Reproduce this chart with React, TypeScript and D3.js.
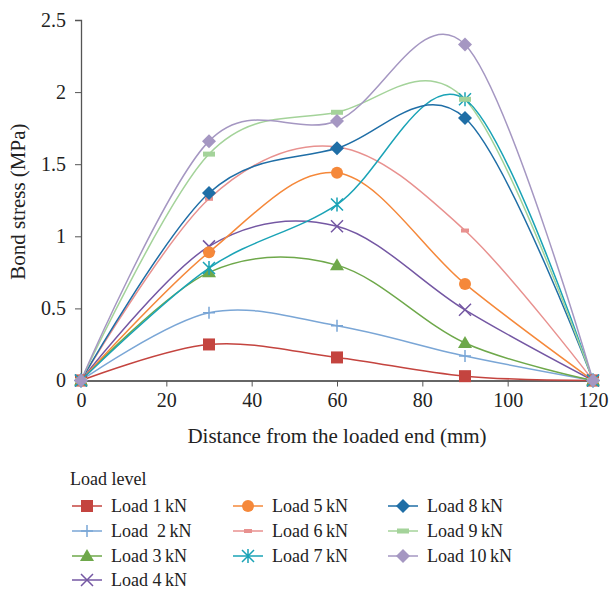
import React, { useEffect, useRef } from 'react';
import * as d3 from 'd3';

const distances = [0, 30, 60, 90, 120];
const loadNames = ['Load 1\u2009kN', 'Load  2\u2009kN', 'Load 3\u2009kN', 'Load 4\u2009kN', 'Load 5\u2009kN', 'Load 6\u2009kN', 'Load 7\u2009kN', 'Load 8\u2009kN', 'Load 9\u2009kN', 'Load 10\u2009kN'];
const load1 = [0, 0.25, 0.16, 0.03, 0];
const load2 = [0, 0.47, 0.38, 0.17, 0];
const load3 = [0, 0.75, 0.8, 0.26, 0];
const load4 = [0, 0.93, 1.07, 0.49, 0];
const load5 = [0, 0.89, 1.44, 0.67, 0];
const load6 = [0, 1.26, 1.62, 1.04, 0];
const load7 = [0, 0.78, 1.22, 1.95, 0];
const load8 = [0, 1.3, 1.61, 1.82, 0];
const load9 = [0, 1.57, 1.86, 1.95, 0];
const load10 = [0, 1.66, 1.8, 2.33, 0];
const xTicks = [0, 20, 40, 60, 80, 100, 120];
const yTicks = [0, 0.5, 1, 1.5, 2, 2.5];

const colors = ['#c4443f', '#7aa6d6', '#6ea84a', '#7457a3', '#f5883a', '#e8918f', '#1aa3b6', '#1f6ea6', '#a4d39a', '#a597c2'];
const symbols = ['square', 'plus', 'triangle', 'x', 'circle', 'dash', 'star', 'diamond', 'dash2', 'diamond'];

const W = 609, H = 590;
const margin = { left: 81, right: 15, top: 20, bottom: 209 };
const font = '"Liberation Serif", "DejaVu Serif", serif';

function drawMarker(g: any, kind: string, cx: number, cy: number, color: string) {
  const s = 6;
  if (kind === 'square') {
    g.append('rect').attr('x', cx - s).attr('y', cy - s).attr('width', 2 * s).attr('height', 2 * s).attr('fill', color);
  } else if (kind === 'circle') {
    g.append('circle').attr('cx', cx).attr('cy', cy).attr('r', 6).attr('fill', color);
  } else if (kind === 'triangle') {
    g.append('path').attr('d', `M${cx},${cy - 7}L${cx + 7},${cy + 5}L${cx - 7},${cy + 5}Z`).attr('fill', color);
  } else if (kind === 'diamond') {
    g.append('path').attr('d', `M${cx},${cy - 7}L${cx + 7},${cy}L${cx},${cy + 7}L${cx - 7},${cy}Z`).attr('fill', color);
  } else if (kind === 'plus') {
    g.append('path').attr('d', `M${cx - 6},${cy}H${cx + 6}M${cx},${cy - 6}V${cy + 6}`).attr('stroke', color).attr('stroke-width', 1.5);
  } else if (kind === 'x') {
    g.append('path').attr('d', `M${cx - 6},${cy - 6}L${cx + 6},${cy + 6}M${cx - 6},${cy + 6}L${cx + 6},${cy - 6}`).attr('stroke', color).attr('stroke-width', 1.5);
  } else if (kind === 'star') {
    g.append('path').attr('d', `M${cx - 6},${cy - 6}L${cx + 6},${cy + 6}M${cx - 6},${cy + 6}L${cx + 6},${cy - 6}M${cx},${cy - 7}V${cy + 7}`).attr('stroke', color).attr('stroke-width', 1.5);
  } else if (kind === 'dash') {
    g.append('rect').attr('x', cx - 4).attr('y', cy - 2).attr('width', 8).attr('height', 4).attr('fill', color);
  } else if (kind === 'dash2') {
    g.append('rect').attr('x', cx - 6).attr('y', cy - 2.5).attr('width', 12).attr('height', 5).attr('fill', color);
  }
}

export default function App() {
  const svgRef = useRef<SVGSVGElement>(null);

  useEffect(() => {
    const svg = d3.select(svgRef.current);
    svg.selectAll('*').remove();
    const series = [load1, load2, load3, load4, load5, load6, load7, load8, load9, load10];

    const x = d3.scaleLinear().domain([0, 120]).range([margin.left, W - margin.right - 1]);
    const y = d3.scaleLinear().domain([0, 2.5]).range([H - margin.bottom - 0.5, margin.top]);

    // y axis
    const yAxis = d3.axisLeft(y).tickValues(yTicks).tickSize(6).tickFormat((d: any) => String(d));
    const yg = svg.append('g').attr('transform', `translate(${margin.left},0)`).call(yAxis);
    yg.select('.domain').attr('stroke', '#555').attr('stroke-width', 1.3);
    yg.selectAll('.tick line').attr('stroke', '#555');
    yg.selectAll('.tick text').attr('font-family', font).attr('font-size', 20).attr('fill', '#222').attr('x', -15);

    // x axis
    const xAxis = d3.axisBottom(x).tickValues(xTicks).tickSize(6).tickSizeOuter(0);
    const xg = svg.append('g').attr('transform', `translate(0,${y(0)})`).call(xAxis);
    xg.select('.domain').attr('stroke', '#666').attr('stroke-width', 2);
    xg.selectAll('.tick line').attr('stroke', '#555');
    xg.selectAll('.tick text').attr('font-family', font).attr('font-size', 20).attr('fill', '#222').attr('y', 12);

    svg.append('text').attr('x', 337).attr('y', 443).attr('text-anchor', 'middle')
      .attr('font-family', font).attr('font-size', 21).attr('fill', '#222').text('Distance from the loaded end (mm)');
    svg.append('text').attr('transform', `translate(25,${y(1.24)}) rotate(-90)`).attr('text-anchor', 'middle')
      .attr('font-family', font).attr('font-size', 21).attr('fill', '#222').text('Bond stress (MPa)');

    const line = d3.line<number>().x((_, i) => x(distances[i])).y(d => y(d)).curve(d3.curveCardinal.tension(0));

    series.forEach((vals, k) => {
      svg.append('path').attr('d', line(vals) as string).attr('fill', 'none').attr('stroke', colors[k]).attr('stroke-width', 1.5);
    });
    series.forEach((vals, k) => {
      const g = svg.append('g');
      vals.forEach((v, i) => drawMarker(g, symbols[k], x(distances[i]), y(v), colors[k]));
    });

    // legend
    svg.append('text').attr('x', 70).attr('y', 485).attr('font-family', font).attr('font-size', 18).attr('fill', '#222').text('Load level');
    const colX = [72, 233, 388];
    const rowY = [506, 531, 556, 580];
    const layout = [[0, 0], [0, 1], [0, 2], [0, 3], [1, 0], [1, 1], [1, 2], [2, 0], [2, 1], [2, 2]];
    layout.forEach(([c, r], k) => {
      const lx = colX[c], ly = rowY[r];
      const g = svg.append('g');
      g.append('line').attr('x1', lx).attr('x2', lx + 30).attr('y1', ly).attr('y2', ly).attr('stroke', colors[k]).attr('stroke-width', 1.5);
      drawMarker(g, symbols[k], lx + 15, ly, colors[k]);
      g.append('text').attr('x', lx + 39).attr('y', ly + 6).attr('font-family', font).attr('font-size', 18)
        .attr('fill', '#222').attr('xml:space', 'preserve').style('white-space', 'pre').text(loadNames[k]);
    });
  }, []);

  return (
    <svg ref={svgRef} width={W} height={H} style={{ position: 'absolute', left: 0, top: 0, background: '#fff' }} />
  );
}
